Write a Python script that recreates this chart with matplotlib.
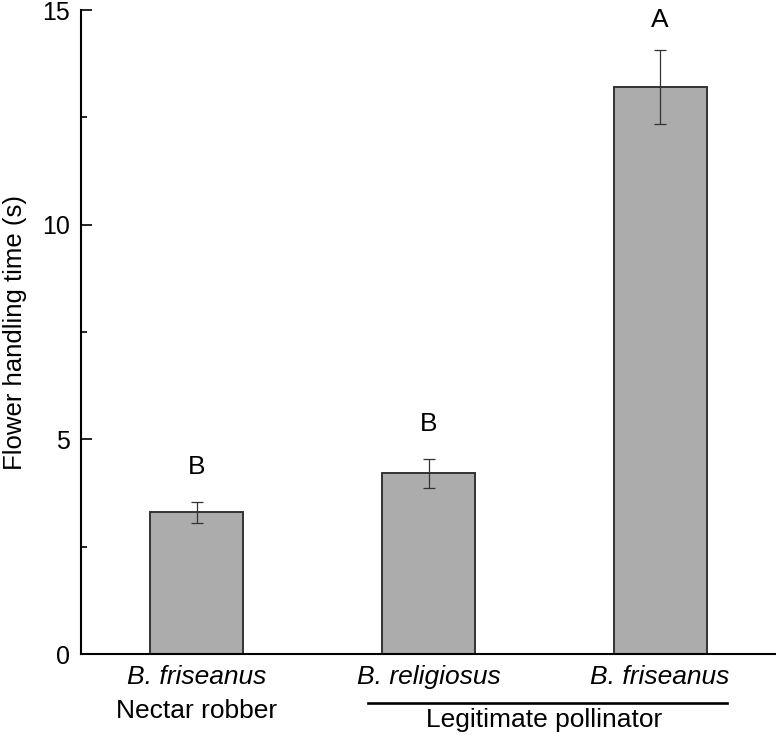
import numpy as np
import matplotlib
matplotlib.use('Agg')
import matplotlib.pyplot as plt
from matplotlib.ticker import MultipleLocator

# Data
species = ['B. friseanus', 'B. religiosus', 'B. friseanus']
handling_time = [3.30, 4.21, 13.20]
sem = [0.25, 0.34, 0.86]
letters = ['B', 'B', 'A']
groups = ['Nectar robber', 'Legitimate pollinator']

plt.rcParams['font.family'] = ['Liberation Sans', 'DejaVu Sans']

fig = plt.figure(figsize=(7.76, 7.40), dpi=100)
ax = fig.add_axes([81 / 776, 1 - 654 / 740, 1 - 81 / 776, 644 / 740])

x = np.arange(len(species))
ax.bar(x, handling_time, width=0.4, color='#acacac', edgecolor='#333333',
       linewidth=1.4, zorder=2)
ax.errorbar(x, handling_time, yerr=sem, fmt='none', ecolor='#333333',
            elinewidth=0.9, capsize=4, capthick=0.9, zorder=3)

# significance letters above the error bars
for xi, h, s, lab in zip(x, handling_time, sem, letters):
    off = 20 if lab == 'B' else 16.5
    ax.annotate(lab, (xi, h + s), xytext=(0, off), textcoords='offset points',
                ha='center', va='baseline', fontsize=19)

ax.set_xlim(-0.5, 2.5)
ax.set_ylim(0, 15)
ax.yaxis.set_major_locator(MultipleLocator(5))
ax.yaxis.set_minor_locator(MultipleLocator(2.5))
ax.tick_params(axis='y', which='major', direction='in', length=8, width=1.2,
               labelsize=18, pad=8)
ax.tick_params(axis='y', which='minor', direction='in', length=4.5, width=1.2)
ax.set_xticks(x)
ax.set_xticklabels(species, fontstyle='italic', fontsize=19)
ax.tick_params(axis='x', length=0, pad=8)
ax.set_ylabel('Flower handling time (s)', fontsize=18.5, labelpad=11)

for side in ['top', 'right']:
    ax.spines[side].set_visible(False)
ax.spines['left'].set_linewidth(1.5)
ax.spines['bottom'].set_linewidth(1.5)

# group labels below the species names
trans = ax.get_xaxis_transform()
ax.text(0, -0.0994, groups[0], transform=trans, ha='center', va='baseline', fontsize=19)
ax.text(1.5, -0.1134, groups[1], transform=trans, ha='center', va='baseline', fontsize=19)
ax.plot([0.74, 2.29], [-0.0761, -0.0761], transform=trans, color='black',
        lw=1.9, clip_on=False)

fig.savefig('out.png', dpi=100)
